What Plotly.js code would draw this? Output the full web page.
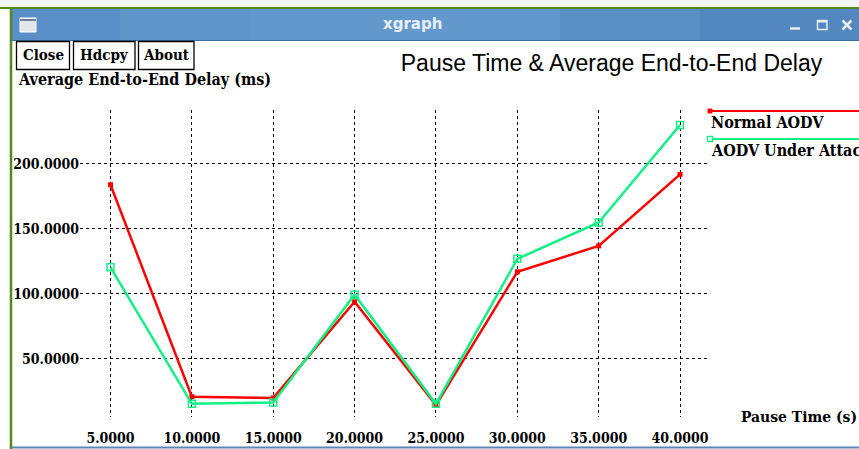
<!DOCTYPE html>
<html>
<head>
<meta charset="utf-8">
<script src="https://cdn.plot.ly/plotly-3.0.1.min.js"></script>
<style>
html,body{margin:0;padding:0;background:#fff;}
#chart{width:859px;height:449px;}
</style>
</head>
<body>
<div id="chart"></div>
<script>
// ---- data ----
const pauseTime = [5, 10, 15, 20, 25, 30, 35, 40];
const normalAODV = [184, 21, 20, 94, 14.5, 117, 137, 192];
const aodvUnderAttack = [120.5, 15.5, 16.5, 99.5, 15.5, 127, 155, 230];
const xTickLabels = ['5.0000', '10.0000', '15.0000', '20.0000', '25.0000', '30.0000', '35.0000', '40.0000'];
const yTickVals = [50, 100, 150, 200];
const yTickLabels = ['50.0000', '100.0000', '150.0000', '200.0000'];
const seriesNames = ['Normal AODV', 'AODV Under Attack'];
const buttonLabels = ['Close', 'Hdcpy', 'About'];

// ---- geometry (pixels) ----
const W = 859, H = 449;
const L = 80, R = 710, T = 110, B = 417;
const px = x => (x - L) / (R - L);
const py = y => (B - y) / (B - T);

const RED = '#ff0000';
const GREEN = '#10f085';
const SERIF = '"DejaVu Serif Condensed", "DejaVu Serif", serif';
const SANS = '"Liberation Sans", Arial, sans-serif';

const shapes = [];
const annotations = [];
function rect(x0, y0, x1, y1, fill, line, lw, extra) {
  shapes.push(Object.assign({type: 'rect', xref: 'paper', yref: 'paper',
    x0: px(x0), x1: px(x1), y0: py(y1), y1: py(y0),
    fillcolor: fill || 'rgba(0,0,0,0)',
    line: {color: line || 'rgba(0,0,0,0)', width: lw || 0}, layer: 'below'}, extra || {}));
}
function seg(x0, y0, x1, y1, color, w, layer) {
  shapes.push({type: 'line', xref: 'paper', yref: 'paper',
    x0: px(x0), x1: px(x1), y0: py(y0), y1: py(y1),
    line: {color: color, width: w}, layer: layer || 'above'});
}
function text(x, y, t, font, xanchor, extra) {
  annotations.push(Object.assign({xref: 'paper', yref: 'paper', x: px(x), y: py(y),
    text: t, showarrow: false, xanchor: xanchor || 'left', yanchor: 'middle',
    font: font}, extra || {}));
}

// window chrome
rect(0, 0, W, 8, '#f4f6f2');
seg(0, 8, W, 8, '#4e8a1e', 2, 'below');
rect(12, 9, W + 2, 41, '#6398cd', null, 0);
rect(12, 9, 120, 41, '#5b8fc7');
rect(120, 9, 250, 41, '#6095ca');
rect(560, 9, 700, 41, '#5b90c7');
rect(700, 9, W + 2, 41, '#5387c0');
seg(12, 40.5, W, 40.5, '#3b6a9e', 1, 'below');
seg(11, 9, 11, H, '#4e8a1e', 2.5, 'below');
seg(12, 447.5, W, 447.5, '#5b86b8', 2, 'above');
// window icon
rect(20, 18, 36, 32, '#e4e6ea', '#ffffff', 1);
seg(20, 20, 36, 20, '#6a7f9a', 2);
text(412, 24, '<b>xgraph</b>', {family: '"DejaVu Sans", sans-serif', size: 15, color: '#e9eff6'}, 'center');
// window controls
seg(790, 28.5, 800, 28.5, '#e6edf5', 2.5);
rect(817.5, 20.5, 827, 29.5, null, '#e6edf5', 1.5, {layer: 'above'});
seg(817.5, 21.5, 827, 21.5, '#e6edf5', 2);
seg(842.5, 20.5, 851.5, 29.5, '#e6edf5', 2.5);
seg(842.5, 29.5, 851.5, 20.5, '#e6edf5', 2.5);

// buttons
const btnBoxes = [[16.5, 69.5], [73.5, 135], [138.5, 194]];
buttonLabels.forEach((b, i) => {
  rect(btnBoxes[i][0], 41.5, btnBoxes[i][1], 69.5, '#ffffff', '#000000', 1.3, {layer: 'above'});
  text((btnBoxes[i][0] + btnBoxes[i][1]) / 2, 55.5, '<b>' + b + '</b>', {family: SERIF, size: 15, color: '#000'}, 'center');
});

// axis titles
text(16, 80, '<b>Average End-to-End Delay (ms)</b>', {family: SERIF, size: 16, color: '#000'}, 'left');
text(859, 416, '<b>Pause Time (s)</b>', {family: SERIF, size: 15.5, color: '#000'}, 'right');

// legend
seg(710, 111, W + 2, 111, RED, 2, 'above');
seg(710, 139, W + 2, 139, GREEN, 2, 'above');
rect(708, 109, 712, 113, RED, RED, 1, {layer: 'above'});
rect(707.5, 136.5, 712.5, 141.5, '#ffffff', GREEN, 1.3, {layer: 'above'});
text(709, 122, '<b>' + seriesNames[0] + '</b>', {family: SERIF, size: 16, color: '#000'}, 'left');
text(709, 150, '<b>' + seriesNames[1] + '</b>', {family: SERIF, size: 16, color: '#000'}, 'left');

const traces = [
  {x: pauseTime, y: normalAODV, name: seriesNames[0], type: 'scatter', mode: 'lines+markers',
   line: {color: RED, width: 2.5}, marker: {symbol: 'square', size: 5, color: RED}},
  {x: pauseTime, y: aodvUnderAttack, name: seriesNames[1], type: 'scatter', mode: 'lines+markers',
   line: {color: GREEN, width: 2.5}, marker: {symbol: 'square-open', size: 7, color: GREEN, line: {width: 1.5}}}
];

const layout = {
  width: W, height: H,
  margin: {l: L, r: W - R, t: T, b: H - B, pad: 0},
  paper_bgcolor: '#ffffff', plot_bgcolor: 'rgba(0,0,0,0)',
  showlegend: false,
  title: {text: 'Pause Time & Average End-to-End Delay', xref: 'paper', x: px(611.5), xanchor: 'center',
          yref: 'container', y: 1 - 63 / H, yanchor: 'middle',
          font: {family: SANS, size: 23, color: '#000'}},
  xaxis: {range: [3.126, 41.84], tickvals: pauseTime, ticktext: xTickLabels,
          showgrid: true, gridcolor: '#000', griddash: 'dot', gridwidth: 1,
          zeroline: false, showline: false, ticks: '', ticklabelstandoff: 11,
          tickfont: {family: SERIF, size: 14, color: '#000', weight: 'bold'}, fixedrange: true},
  yaxis: {range: [5.38, 241.5], tickvals: yTickVals, ticktext: yTickLabels,
          showgrid: true, gridcolor: '#000', griddash: 'dot', gridwidth: 1,
          zeroline: false, showline: false, ticks: '', ticklabelstandoff: 0,
          tickfont: {family: SERIF, size: 14, color: '#000', weight: 'bold'}, fixedrange: true},
  shapes: shapes,
  annotations: annotations
};

Plotly.newPlot('chart', traces, layout, {staticPlot: true, displayModeBar: false});
</script>
</body>
</html>
